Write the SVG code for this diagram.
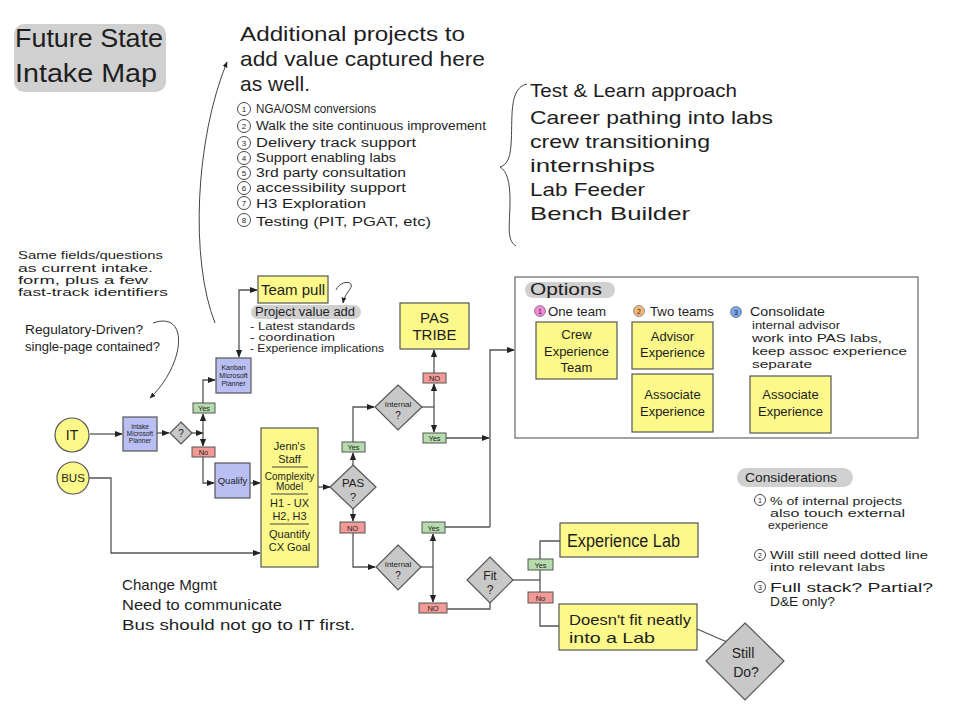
<svg xmlns="http://www.w3.org/2000/svg" width="961" height="728" viewBox="0 0 961 728">
<style>
.t{font-family:"Liberation Sans","DejaVu Sans",sans-serif;fill:#1e1e1e}
.c{text-anchor:middle}
.ln{fill:none;stroke:#555;stroke-width:1.3}
.thin{fill:none;stroke:#444;stroke-width:1}
.bx{stroke:#555;stroke-width:1.2}
.yel{fill:#fcf98a}
.blu{fill:#b9bff2}
.dia{fill:#c8c8c8;stroke:#555;stroke-width:1.2}
.yes{fill:#b6dcae;stroke:#555;stroke-width:1}
.no{fill:#f29a96;stroke:#555;stroke-width:1}
.pill{fill:#d0d0d0}
.num{fill:none;stroke:#333;stroke-width:0.9}
</style>
<defs>
<marker id="a" viewBox="0 0 10 10" refX="9" refY="5" markerWidth="6" markerHeight="6" orient="auto-start-reverse"><path d="M0,1 L10,5 L0,9 z" fill="#222"/></marker>
</defs>
<rect width="961" height="728" fill="#fff"/>

<g id="title">
<rect x="14" y="24" width="152" height="68" rx="10" class="pill"/>
<text class="t" x="15" y="47" font-size="26" textLength="148" lengthAdjust="spacingAndGlyphs">Future State</text>
<text class="t" x="15" y="82" font-size="26" textLength="142" lengthAdjust="spacingAndGlyphs">Intake Map</text>
</g>

<g id="additional-projects">
<text class="t" x="240" y="41" font-size="21" textLength="225" lengthAdjust="spacingAndGlyphs">Additional projects to</text>
<text class="t" x="240" y="66" font-size="21" textLength="245" lengthAdjust="spacingAndGlyphs">add value captured here</text>
<text class="t" x="240" y="91" font-size="21">as well.</text>
<circle cx="244" cy="109" r="6.5" class="num"/><text class="t c" x="244" y="112" font-size="8">1</text>
<circle cx="244" cy="126" r="6.5" class="num"/><text class="t c" x="244" y="129" font-size="8">2</text>
<circle cx="244" cy="143" r="6.5" class="num"/><text class="t c" x="244" y="146" font-size="8">3</text>
<circle cx="244" cy="158" r="6.5" class="num"/><text class="t c" x="244" y="161" font-size="8">4</text>
<circle cx="244" cy="173" r="6.5" class="num"/><text class="t c" x="244" y="176" font-size="8">5</text>
<circle cx="244" cy="188" r="6.5" class="num"/><text class="t c" x="244" y="191" font-size="8">6</text>
<circle cx="244" cy="203" r="6.5" class="num"/><text class="t c" x="244" y="206" font-size="8">7</text>
<circle cx="244" cy="220" r="6.5" class="num"/><text class="t c" x="244" y="223" font-size="8">8</text>
<text class="t" x="256" y="113" font-size="12" textLength="120" lengthAdjust="spacingAndGlyphs">NGA/OSM conversions</text>
<text class="t" x="256" y="130" font-size="12" textLength="230" lengthAdjust="spacingAndGlyphs">Walk the site continuous improvement</text>
<text class="t" x="256" y="147" font-size="12.5" textLength="160" lengthAdjust="spacingAndGlyphs">Delivery track support</text>
<text class="t" x="256" y="162" font-size="12.5" textLength="140" lengthAdjust="spacingAndGlyphs">Support enabling labs</text>
<text class="t" x="256" y="177" font-size="12.5" textLength="150" lengthAdjust="spacingAndGlyphs">3rd party consultation</text>
<text class="t" x="256" y="192" font-size="12.5" textLength="150" lengthAdjust="spacingAndGlyphs">accessibility support</text>
<text class="t" x="256" y="208" font-size="12.5" textLength="110" lengthAdjust="spacingAndGlyphs">H3 Exploration</text>
<text class="t" x="256" y="226" font-size="12.5" textLength="175" lengthAdjust="spacingAndGlyphs">Testing (PIT, PGAT, etc)</text>
</g>

<g id="team-benefits">
<path class="thin" d="M527,84 C508,88 513,120 511,145 C510,160 506,165 500,167 C507,171 510,182 510,200 C510,225 506,240 516,246"/>
<text class="t" x="530" y="97" font-size="19" textLength="207" lengthAdjust="spacingAndGlyphs">Test &amp; Learn approach</text>
<text class="t" x="530" y="124" font-size="19" textLength="243" lengthAdjust="spacingAndGlyphs">Career pathing into labs</text>
<text class="t" x="530" y="148" font-size="19" textLength="180" lengthAdjust="spacingAndGlyphs">crew transitioning</text>
<text class="t" x="530" y="172" font-size="19" textLength="125" lengthAdjust="spacingAndGlyphs">internships</text>
<text class="t" x="530" y="196" font-size="19" textLength="115" lengthAdjust="spacingAndGlyphs">Lab Feeder</text>
<text class="t" x="530" y="220" font-size="19" textLength="160" lengthAdjust="spacingAndGlyphs">Bench Builder</text>
</g>

<g id="notes-left">
<text class="t" x="18" y="259" font-size="11" textLength="145" lengthAdjust="spacingAndGlyphs">Same fields/questions</text>
<text class="t" x="18" y="272" font-size="11" textLength="135" lengthAdjust="spacingAndGlyphs">as current intake.</text>
<text class="t" x="18" y="284" font-size="11" textLength="130" lengthAdjust="spacingAndGlyphs">form, plus a few</text>
<text class="t" x="18" y="296" font-size="11" textLength="150" lengthAdjust="spacingAndGlyphs">fast-track identifiers</text>
<text class="t" x="25" y="334" font-size="12.5" textLength="118" lengthAdjust="spacingAndGlyphs">Regulatory-Driven?</text>
<text class="t" x="25" y="351" font-size="12.5" textLength="135" lengthAdjust="spacingAndGlyphs">single-page contained?</text>
</g>

<g id="change-mgmt">
<text class="t" x="122" y="590" font-size="15" textLength="95" lengthAdjust="spacingAndGlyphs">Change Mgmt</text>
<text class="t" x="122" y="610" font-size="15" textLength="160" lengthAdjust="spacingAndGlyphs">Need to communicate</text>
<text class="t" x="122" y="630" font-size="15" textLength="233" lengthAdjust="spacingAndGlyphs">Bus should not go to IT first.</text>
</g>

<g id="connectors">
<path class="ln" d="M90,434 H122" marker-end="url(#a)"/>
<path class="ln" d="M157,433 H169" marker-end="url(#a)"/>
<path class="ln" d="M192,433 H203" marker-end="url(#a)"/>
<path class="ln" d="M203,433 V414" marker-end="url(#a)"/>
<path class="ln" d="M203,403 V380 H215" marker-end="url(#a)"/>
<path class="ln" d="M239,357 V290 H257" marker-start="url(#a)" marker-end="url(#a)"/>
<path class="ln" d="M203,433 V446" marker-end="url(#a)"/>
<path class="ln" d="M203,457 V483 H214" marker-end="url(#a)"/>
<path class="ln" d="M250,483 H260" marker-end="url(#a)"/>
<path class="ln" d="M89,478 H111 V553 H260" marker-end="url(#a)"/>
<path class="ln" d="M318,487 H330" marker-end="url(#a)"/>
<path class="ln" d="M353,465 V453" marker-end="url(#a)"/>
<path class="ln" d="M353,442 V407 H374" marker-end="url(#a)"/>
<path class="ln" d="M422,407 H434"/>
<path class="ln" d="M434,407 V384" marker-end="url(#a)"/>
<path class="ln" d="M434,373 V350" marker-end="url(#a)"/>
<path class="ln" d="M434,407 V432" marker-end="url(#a)"/>
<path class="ln" d="M446,438 H489" marker-end="url(#a)"/>
<path class="ln" d="M490,527 V350 H514" marker-end="url(#a)"/>
<path class="ln" d="M353,509 V521" marker-end="url(#a)"/>
<path class="ln" d="M353,533 V567 H375" marker-end="url(#a)"/>
<path class="ln" d="M421,567 H433"/>
<path class="ln" d="M433,567 V534" marker-end="url(#a)"/>
<path class="ln" d="M445,527 H490"/>
<path class="ln" d="M433,567 V602" marker-end="url(#a)"/>
<path class="ln" d="M447,609 H490 V603"/>
<path class="ln" d="M513,580 H540"/>
<path class="ln" d="M540,580 V541 H560"/>
<path class="ln" d="M540,580 V626 H559"/>
<path class="ln" d="M697,629 L727,642"/>
<path class="thin" d="M153,323 C190,310 185,365 150,398" marker-end="url(#a)"/>
<path class="thin" d="M215,323 C190,260 195,140 227,62" marker-end="url(#a)"/>
<path class="thin" d="M336,290 C340,280 356,280 350,289 C347,293 344,297 343,303" marker-end="url(#a)"/>
</g>

<g id="it">
<circle cx="72" cy="435" r="17" class="bx yel"/>
<text class="t c" x="72" y="440" font-size="14">IT</text>
</g>
<g id="bus">
<circle cx="73" cy="478" r="16" class="bx yel"/>
<text class="t c" x="73" y="482" font-size="11.5">BUS</text>
</g>
<g id="intake">
<rect x="123" y="417" width="34" height="34" class="bx blu"/>
<text class="t c" x="140" y="429" font-size="6.5">Intake</text>
<text class="t c" x="140" y="436" font-size="6.5">Microsoft</text>
<text class="t c" x="140" y="443" font-size="6.5">Planner</text>
</g>
<g id="q1">
<polygon points="181,422 192,433 181,444 170,433" class="dia"/>
<text class="t c" x="181" y="437" font-size="10">?</text>
</g>
<g id="yes1"><rect x="193" y="403" width="22" height="10" class="yes"/><text class="t c" x="204" y="411" font-size="7.5">Yes</text></g>
<g id="no1"><rect x="192" y="447" width="23" height="10" class="no"/><text class="t c" x="203.5" y="455" font-size="7.5">No</text></g>
<g id="kanban">
<rect x="216" y="358" width="35" height="35" class="bx blu"/>
<text class="t c" x="233.5" y="370" font-size="7">Kanban</text>
<text class="t c" x="233.5" y="378" font-size="7">Microsoft</text>
<text class="t c" x="233.5" y="386" font-size="7">Planner</text>
</g>
<g id="team-pull">
<rect x="258" y="276" width="70" height="27" class="bx yel"/>
<text class="t c" x="293" y="295" font-size="15">Team pull</text>
</g>
<g id="project-value">
<rect x="251" y="305" width="110" height="14" rx="7" class="pill"/>
<text class="t" x="255" y="316" font-size="12.5" textLength="100" lengthAdjust="spacingAndGlyphs">Project value add</text>
<text class="t" x="250" y="330" font-size="10.5" textLength="105" lengthAdjust="spacingAndGlyphs">- Latest standards</text>
<text class="t" x="250" y="341" font-size="10.5" textLength="85" lengthAdjust="spacingAndGlyphs">- coordination</text>
<text class="t" x="250" y="352" font-size="10.5" textLength="134" lengthAdjust="spacingAndGlyphs">- Experience implications</text>
</g>
<g id="qualify">
<rect x="215" y="463" width="35" height="35" class="bx blu"/>
<text class="t c" x="232.5" y="484" font-size="9.5">Qualify</text>
</g>
<g id="jenns-staff">
<rect x="261" y="428" width="57" height="139" class="bx yel"/>
<text class="t c" x="289.5" y="450" font-size="11">Jenn's</text>
<text class="t c" x="289.5" y="463" font-size="11">Staff</text>
<path class="thin" d="M272,467 H308"/>
<text class="t c" x="289.5" y="480" font-size="10">Complexity</text>
<text class="t c" x="289.5" y="490" font-size="10">Model</text>
<path class="thin" d="M271,494 H308"/>
<text class="t c" x="289.5" y="507" font-size="11">H1 - UX</text>
<text class="t c" x="289.5" y="520" font-size="11">H2, H3</text>
<path class="thin" d="M270,524 H309"/>
<text class="t c" x="289.5" y="538" font-size="11">Quantify</text>
<text class="t c" x="289.5" y="551" font-size="11">CX Goal</text>
</g>
<g id="pas">
<polygon points="353,465 376,487 353,509 330,487" class="dia"/>
<text class="t c" x="353" y="487" font-size="11.5">PAS</text>
<text class="t c" x="353" y="501" font-size="11.5">?</text>
</g>
<g id="yes-pas"><rect x="342" y="442" width="23" height="10" class="yes"/><text class="t c" x="353.5" y="450" font-size="7.5">Yes</text></g>
<g id="no-pas"><rect x="340" y="522" width="25" height="11" class="no"/><text class="t c" x="352.5" y="531" font-size="7.5">NO</text></g>
<g id="internal1">
<polygon points="398,385 422,407 398,430 375,407" class="dia"/>
<text class="t c" x="398" y="407" font-size="8">Internal</text>
<text class="t c" x="398" y="419" font-size="10">?</text>
</g>
<g id="no-int1"><rect x="423" y="373" width="23" height="10" class="no"/><text class="t c" x="434.5" y="381" font-size="7.5">NO</text></g>
<g id="yes-int1"><rect x="423" y="433" width="23" height="10" class="yes"/><text class="t c" x="434.5" y="441" font-size="7.5">Yes</text></g>
<g id="pas-tribe">
<rect x="400" y="303" width="69" height="46" class="bx yel"/>
<text class="t c" x="434.5" y="323" font-size="15">PAS</text>
<text class="t c" x="434.5" y="340" font-size="15">TRIBE</text>
</g>
<g id="internal2">
<polygon points="398,545 421,567 398,590 376,567" class="dia"/>
<text class="t c" x="398" y="567" font-size="8">Internal</text>
<text class="t c" x="398" y="579" font-size="10">?</text>
</g>
<g id="yes-int2"><rect x="422" y="522" width="23" height="11" class="yes"/><text class="t c" x="433.5" y="531" font-size="7.5">Yes</text></g>
<g id="no-int2"><rect x="419" y="603" width="28" height="10" class="no"/><text class="t c" x="433" y="611" font-size="7.5">NO</text></g>
<g id="fit">
<polygon points="490,557 513,580 490,603 467,580" class="dia"/>
<text class="t c" x="490" y="580" font-size="12">Fit</text>
<text class="t c" x="490" y="594" font-size="12">?</text>
</g>
<g id="yes-fit"><rect x="528" y="559" width="25" height="11" class="yes"/><text class="t c" x="540.5" y="568" font-size="7.5">Yes</text></g>
<g id="no-fit"><rect x="528" y="592" width="25" height="11" class="no"/><text class="t c" x="540.5" y="601" font-size="7.5">No</text></g>
<g id="experience-lab">
<rect x="560" y="523" width="138" height="34" class="bx yel"/>
<text class="t" x="567" y="547" font-size="18" textLength="113" lengthAdjust="spacingAndGlyphs">Experience Lab</text>
</g>
<g id="doesnt-fit">
<rect x="559" y="604" width="138" height="46" class="bx yel"/>
<text class="t" x="569" y="625" font-size="15" textLength="122" lengthAdjust="spacingAndGlyphs">Doesn't fit neatly</text>
<text class="t" x="569" y="643" font-size="15" textLength="86" lengthAdjust="spacingAndGlyphs">into a Lab</text>
</g>
<g id="still-do">
<polygon points="745,623 784,661 745,700 706,661" class="dia"/>
<text class="t c" x="743" y="658" font-size="14">Still</text>
<text class="t c" x="746" y="677" font-size="14">Do?</text>
</g>

<g id="options">
<rect x="515" y="277" width="403" height="161" fill="#fff" stroke="#666" stroke-width="1.2"/>
<rect x="525" y="282" width="90" height="16" rx="8" class="pill"/>
<text class="t" x="530" y="295" font-size="16" textLength="72" lengthAdjust="spacingAndGlyphs">Options</text>
<circle cx="540" cy="311" r="5.5" fill="#f38ad6" stroke="#555" stroke-width="0.6"/><text class="t c" x="540" y="314" font-size="7">1</text>
<text class="t" x="548" y="316" font-size="13.5" textLength="58" lengthAdjust="spacingAndGlyphs">One team</text>
<circle cx="639" cy="311" r="5.5" fill="#f5b97a" stroke="#555" stroke-width="0.6"/><text class="t c" x="639" y="314" font-size="7">2</text>
<text class="t" x="650" y="316" font-size="13.5" textLength="64" lengthAdjust="spacingAndGlyphs">Two teams</text>
<circle cx="736" cy="312" r="5.5" fill="#7ba7ee" stroke="#555" stroke-width="0.6"/><text class="t c" x="736" y="315" font-size="7">3</text>
<text class="t" x="750" y="316" font-size="13" textLength="75" lengthAdjust="spacingAndGlyphs">Consolidate</text>
<text class="t" x="752" y="329" font-size="11.5" textLength="88" lengthAdjust="spacingAndGlyphs">internal advisor</text>
<text class="t" x="752" y="342" font-size="11.5" textLength="130" lengthAdjust="spacingAndGlyphs">work into PAS labs,</text>
<text class="t" x="752" y="355" font-size="11.5" textLength="155" lengthAdjust="spacingAndGlyphs">keep assoc experience</text>
<text class="t" x="752" y="368" font-size="11.5" textLength="60" lengthAdjust="spacingAndGlyphs">separate</text>
<g id="crew-exp">
<rect x="536" y="322" width="81" height="57" class="bx yel"/>
<text class="t c" x="576.5" y="339" font-size="13">Crew</text>
<text class="t c" x="576.5" y="356" font-size="13">Experience</text>
<text class="t c" x="576.5" y="372" font-size="13">Team</text>
</g>
<g id="advisor-exp">
<rect x="632" y="322" width="81" height="47" class="bx yel"/>
<text class="t c" x="672.5" y="341" font-size="13">Advisor</text>
<text class="t c" x="672.5" y="357" font-size="13">Experience</text>
</g>
<g id="assoc-exp-2">
<rect x="632" y="374" width="81" height="58" class="bx yel"/>
<text class="t c" x="672.5" y="399" font-size="13">Associate</text>
<text class="t c" x="672.5" y="416" font-size="13">Experience</text>
</g>
<g id="assoc-exp-3">
<rect x="750" y="376" width="81" height="57" class="bx yel"/>
<text class="t c" x="790.5" y="399" font-size="13">Associate</text>
<text class="t c" x="790.5" y="416" font-size="13">Experience</text>
</g>
</g>

<g id="considerations">
<rect x="737" y="468" width="116" height="19" rx="9.5" class="pill"/>
<text class="t" x="745" y="482" font-size="13" textLength="92" lengthAdjust="spacingAndGlyphs">Considerations</text>
<circle cx="760" cy="500" r="5.5" class="num"/><text class="t c" x="760" y="503" font-size="7">1</text>
<text class="t" x="770" y="505" font-size="11.5" textLength="132" lengthAdjust="spacingAndGlyphs">% of internal projects</text>
<text class="t" x="770" y="517" font-size="11.5" textLength="135" lengthAdjust="spacingAndGlyphs">also touch external</text>
<text class="t" x="768" y="529" font-size="10.5" textLength="60" lengthAdjust="spacingAndGlyphs">experience</text>
<circle cx="760" cy="555" r="5.5" class="num"/><text class="t c" x="760" y="558" font-size="7">2</text>
<text class="t" x="770" y="559" font-size="11.5" textLength="158" lengthAdjust="spacingAndGlyphs">Will still need dotted line</text>
<text class="t" x="770" y="571" font-size="11.5" textLength="115" lengthAdjust="spacingAndGlyphs">into relevant labs</text>
<circle cx="760" cy="587" r="5.5" class="num"/><text class="t c" x="760" y="590" font-size="7">3</text>
<text class="t" x="770" y="592" font-size="12.5" textLength="163" lengthAdjust="spacingAndGlyphs">Full stack? Partial?</text>
<text class="t" x="770" y="606" font-size="12.5" textLength="65" lengthAdjust="spacingAndGlyphs">D&amp;E only?</text>
</g>
</svg>
